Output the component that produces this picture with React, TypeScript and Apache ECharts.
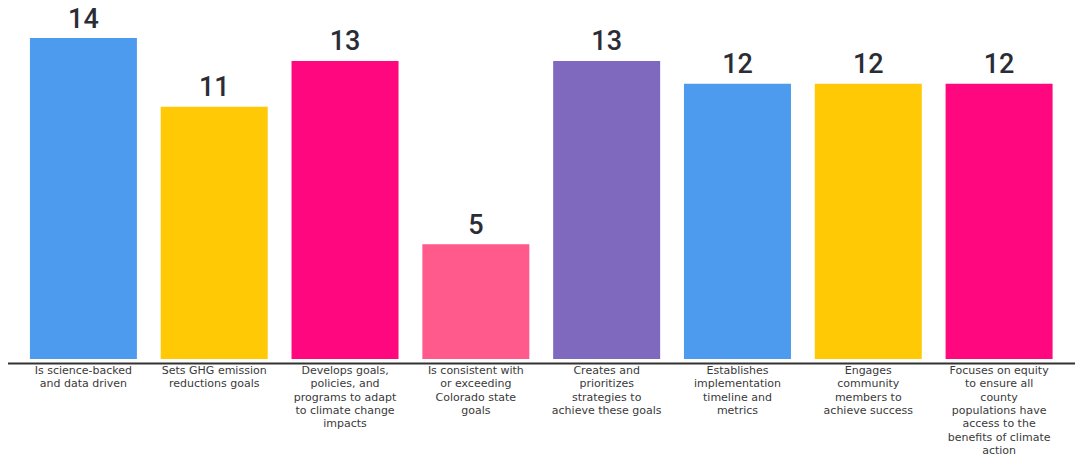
import React, { useEffect, useRef } from "react";
import * as echarts from "echarts";

const categories = [
  "Is science-backed\nand data driven",
  "Sets GHG emission\nreductions goals",
  "Develops goals,\npolicies, and\nprograms to adapt\nto climate change\nimpacts",
  "Is consistent with\nor exceeding\nColorado state\ngoals",
  "Creates and\nprioritizes\nstrategies to\nachieve these goals",
  "Establishes\nimplementation\ntimeline and\nmetrics",
  "Engages\ncommunity\nmembers to\nachieve success",
  "Focuses on equity\nto ensure all\ncounty\npopulations have\naccess to the\nbenefits of climate\naction",
];
const values = [14, 11, 13, 5, 13, 12, 12, 12];
const barColors = [
  "#4D9BEF",
  "#FFC905",
  "#FF077F",
  "#FF5A8B",
  "#7E69BF",
  "#4D9BEF",
  "#FFC905",
  "#FF077F",
];

export default function App() {
  const ref = useRef<HTMLDivElement>(null);
  useEffect(() => {
    if (!ref.current) return;
    const chart = echarts.init(ref.current, null, { renderer: "svg" });
    chart.setOption({
      animation: false,
      backgroundColor: "#ffffff",
      grid: { left: 18, right: 12.5, top: 38, bottom: 94 },
      xAxis: {
        type: "category",
        data: categories,
        axisLine: { show: false },
        axisTick: { show: false },
        axisLabel: {
          interval: 0,
          margin: 5,
          color: "#3a3a3a",
          fontSize: 11,
          lineHeight: 13.3,
          fontFamily: "'DejaVu Sans', 'Open Sans', sans-serif",
          align: "center",
          verticalAlign: "top",
        },
      },
      yAxis: {
        type: "value",
        min: 0,
        max: 14,
        show: false,
        splitLine: { show: false },
      },
      series: [
        {
          type: "bar",
          barWidth: 107,
          data: values.map((v, i) => ({ value: v, itemStyle: { color: barColors[i] } })),
          label: {
            show: true,
            position: "top",
            distance: 6,
            color: "#2b2d36",
            fontSize: 27,
            fontWeight: 500,
            fontFamily: "Roboto, sans-serif",
          },
        },
      ],
      graphic: [
        {
          type: "line",
          shape: { x1: 8, y1: 363.5, x2: 1075, y2: 363.5 },
          style: { stroke: "#333333", lineWidth: 2 },
          z: 10,
        },
      ],
    });
    return () => chart.dispose();
  }, []);
  return (
    <div
      ref={ref}
      style={{ position: "fixed", left: 0, top: 0, width: 1077, height: 457 }}
    />
  );
}
